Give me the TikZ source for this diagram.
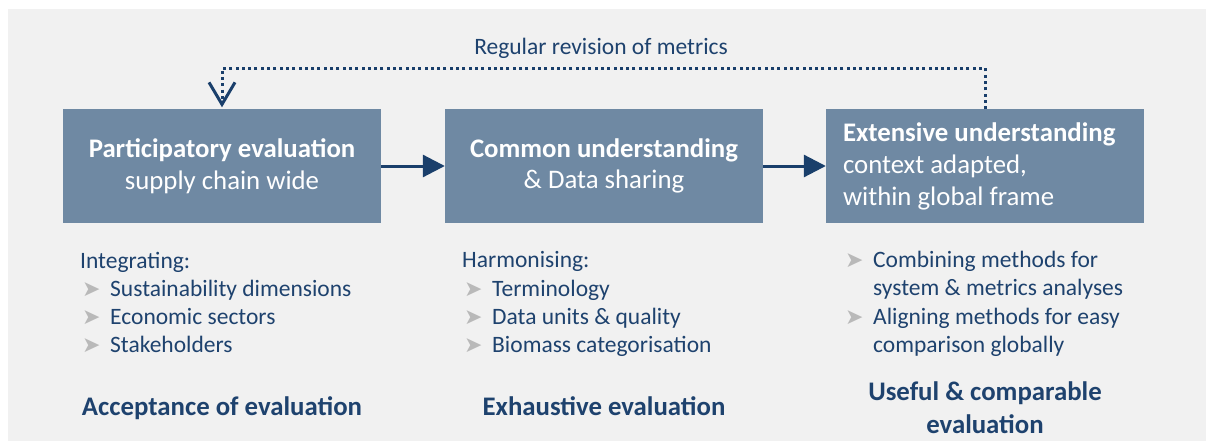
\documentclass[tikz,border=0pt]{standalone}
\usepackage{fontspec}
\setmainfont{Carlito}
\newfontfamily\symfont{DejaVu Sans}
\usetikzlibrary{arrows.meta}
\definecolor{bgGray}{RGB}{241,241,241}
\definecolor{boxFill}{RGB}{111,137,163}
\definecolor{navy}{RGB}{30,66,110}
\definecolor{arrowNavy}{RGB}{26,63,107}
\definecolor{bulletGray}{RGB}{185,185,185}
\newcommand{\bul}{\makebox[28pt][l]{\textcolor{bulletGray}{\symfont\fontsize{22}{22}\selectfont ➤}}}
\tikzset{
  stagebox/.style={fill=boxFill, draw=none, minimum width=318pt, minimum height=113pt, text=white, inner sep=0pt},
  boxfont/.style={font=\fontsize{26.8}{31.5}\selectfont},
  listline/.style={text=navy, anchor=base west, inner sep=0pt, font=\fontsize{23.5}{28}\selectfont},
  outcome/.style={text=navy, anchor=base, inner sep=0pt, font=\bfseries\fontsize{26.8}{33}\selectfont},
  flow/.style={draw=arrowNavy, line width=3pt, -{Triangle[length=22pt,width=22pt]}},
  revision/.style={draw=arrowNavy, line width=3pt, dash pattern=on 3pt off 3.3pt, -{Straight Barb[length=22pt,width=26pt,line width=3pt]}}
}
\begin{document}
\begin{tikzpicture}[x=1pt,y=-1pt]
\useasboundingbox (0,0) rectangle (1206,441);
\fill[bgGray] (8,9) rectangle (1206,441);
% boxes
\node[stagebox, boxfont, align=center] (b1) at (222,166) {\textbf{Participatory evaluation}\\supply chain wide};
\node[stagebox, boxfont, align=center] (b2) at (604,166) {\textbf{Common understanding}\\\& Data sharing};
\node[stagebox, font=\fontsize{26.8}{32}\selectfont, align=flush left, text width=284pt, inner xsep=17pt] (b3) at (985,166) {\textbf{Extensive understanding}\\context adapted,\\within global frame};
% flow arrows
\draw[flow] (b1.east) -- (b2.west);
\draw[flow] (b2.east) -- (b3.west);
% revision loop
\coordinate (loopR) at ([yshift=41pt]b3.north);
\draw[revision, shorten >=2pt] (b3.north) -- (loopR) -| (b1.north);
\node[text=navy, anchor=base, inner sep=0pt, font=\fontsize{23.5}{28}\selectfont] (revlabel) at (601,55) {Regular revision of metrics};
% list 1
\node[listline] (l1h) at (80,268) {Integrating:};
\node[listline] (l1a) at (82,296) {\bul Sustainability dimensions};
\node[listline] (l1b) at (82,324) {\bul Economic sectors};
\node[listline] (l1c) at (82,352) {\bul Stakeholders};
% list 2
\node[listline] (l2h) at (462,267) {Harmonising:};
\node[listline] (l2a) at (464,296) {\bul Terminology};
\node[listline] (l2b) at (464,324) {\bul Data units \& quality};
\node[listline] (l2c) at (464,352) {\bul Biomass categorisation};
% list 3
\node[listline] (l3a) at (845,267) {\bul Combining methods for};
\node[listline] (l3b) at (873,295) {system \& metrics analyses};
\node[listline] (l3c) at (845,324) {\bul Aligning methods for easy};
\node[listline] (l3d) at (873,352) {comparison globally};
% outcomes
\node[outcome] (o1) at (222,415) {Acceptance of evaluation};
\node[outcome] (o2) at (604,415) {Exhaustive evaluation};
\node[outcome] (o3a) at (985,400) {Useful \& comparable};
\node[outcome] (o3b) at (985,433) {evaluation};
\end{tikzpicture}
\end{document}
